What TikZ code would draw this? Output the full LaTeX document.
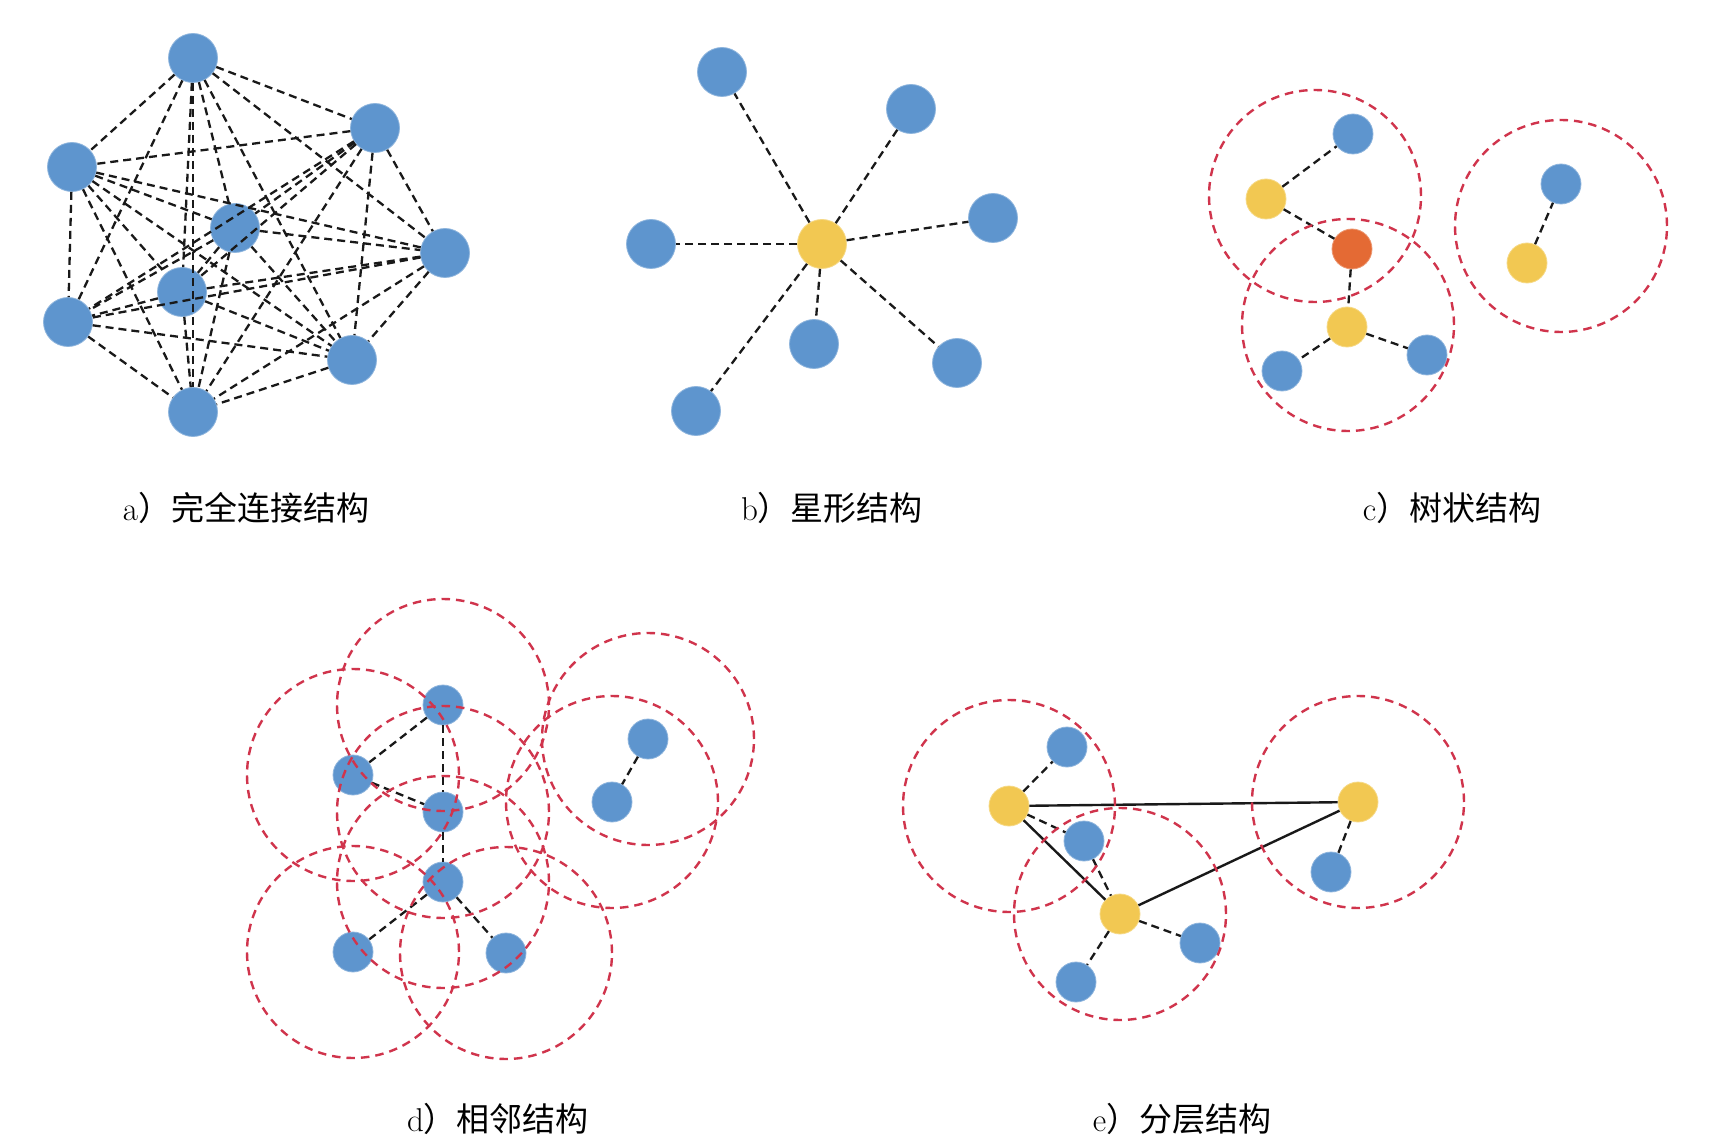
\documentclass[tikz,border=0pt]{standalone}
\usepackage{fontspec}
\newfontfamily\cjk{Noto Sans CJK SC}
\definecolor{nblue}{RGB}{94,149,206}
\definecolor{nyellow}{RGB}{242,200,82}
\definecolor{norange}{RGB}{228,106,52}
\definecolor{zred}{RGB}{208,52,76}
\begin{document}
\begin{tikzpicture}[x=1pt,y=-1pt,
  bignode/.style={circle,inner sep=0pt,minimum size=49pt,draw=#1!70!white,line width=0.8pt,fill=#1},
  smallnode/.style={circle,inner sep=0pt,minimum size=40pt,draw=#1!70!white,line width=0.8pt,fill=#1},
  link/.style={draw=black!90,line width=2.3pt,dash pattern=on 8pt off 5pt},
  solidlink/.style={draw=black!90,line width=2.4pt},
  zone/.style={draw=zred,line width=2.4pt,dash pattern=on 8.5pt off 6pt},
  captext/.style={font=\fontsize{33}{40}\selectfont,anchor=center,inner sep=0pt}]
\useasboundingbox (0,0) rectangle (1727,1147);
\fill[white] (0,0) rectangle (1727,1147);

% ---------- a) complete
\node[bignode=nblue] (a1) at (193,58) {};
\node[bignode=nblue] (a2) at (375,128) {};
\node[bignode=nblue] (a3) at (72,167) {};
\node[bignode=nblue] (a4) at (235,228) {};
\node[bignode=nblue] (a5) at (445,253) {};
\node[bignode=nblue] (a6) at (182,292) {};
\node[bignode=nblue] (a7) at (68,322) {};
\node[bignode=nblue] (a8) at (352,360) {};
\node[bignode=nblue] (a9) at (193,412) {};
\foreach \i [evaluate=\i as \k using int(\i+1)] in {1,...,8} {
  \foreach \j in {\k,...,9} {\draw[link] (a\i) -- (a\j);}
}
\node[captext] (capa) at (246,508) {a\cjk）完全连接结构};

% ---------- b) star
\node[bignode=nyellow] (b0) at (822,244) {};
\node[bignode=nblue] (b1) at (722,72) {};
\node[bignode=nblue] (b2) at (911,109) {};
\node[bignode=nblue] (b3) at (993,218) {};
\node[bignode=nblue] (b4) at (651,244) {};
\node[bignode=nblue] (b5) at (814,344) {};
\node[bignode=nblue] (b6) at (957,363) {};
\node[bignode=nblue] (b7) at (696,411) {};
\foreach \j in {1,...,7} {\draw[link] (b0) -- (b\j);}
\node[captext] (capb) at (832,508) {b\cjk）星形结构};

% ---------- c) tree
\node[smallnode=nblue] (c1) at (1353,134) {};
\node[smallnode=nyellow] (c2) at (1266,199) {};
\node[smallnode=norange] (c3) at (1352,249) {};
\node[smallnode=nyellow] (c4) at (1347,327) {};
\node[smallnode=nblue] (c5) at (1282,371) {};
\node[smallnode=nblue] (c6) at (1427,355) {};
\node[smallnode=nblue] (c7) at (1561,184) {};
\node[smallnode=nyellow] (c8) at (1527,263) {};
\draw[link] (c2) -- (c1);
\draw[link] (c2) -- (c3);
\draw[link] (c3) -- (c4);
\draw[link] (c4) -- (c5);
\draw[link] (c4) -- (c6);
\draw[link] (c8) -- (c7);
\coordinate (cz1) at (1315,196);
\coordinate (cz2) at (1348,325);
\coordinate (cz3) at (1561,226);
\foreach \z in {cz1,cz2,cz3} {\draw[zone] (\z) circle[radius=106pt];}
\node[captext] (capc) at (1452,508) {c\cjk）树状结构};

% ---------- d) adjacent
\node[smallnode=nblue] (d1) at (443,705) {};
\node[smallnode=nblue] (d2) at (353,775) {};
\node[smallnode=nblue] (d3) at (443,812) {};
\node[smallnode=nblue] (d4) at (443,882) {};
\node[smallnode=nblue] (d5) at (353,952) {};
\node[smallnode=nblue] (d6) at (506,953) {};
\node[smallnode=nblue] (d7) at (648,739) {};
\node[smallnode=nblue] (d8) at (612,802) {};
\draw[link] (d1) -- (d2);
\draw[link] (d1) -- (d3);
\draw[link] (d2) -- (d3);
\draw[link] (d3) -- (d4);
\draw[link] (d4) -- (d5);
\draw[link] (d4) -- (d6);
\draw[link] (d7) -- (d8);
\foreach \z in {d1,d2,d3,d4,d5,d6,d7,d8} {\draw[zone] (\z.center) circle[radius=106pt];}
\node[captext] (capd) at (498,1119) {d\cjk）相邻结构};

% ---------- e) hierarchical
\node[smallnode=nyellow] (e1) at (1009,806) {};
\node[smallnode=nblue] (e2) at (1067,747) {};
\node[smallnode=nblue] (e3) at (1084,841) {};
\node[smallnode=nyellow] (e4) at (1120,914) {};
\node[smallnode=nblue] (e5) at (1200,943) {};
\node[smallnode=nblue] (e6) at (1076,982) {};
\node[smallnode=nyellow] (e7) at (1358,802) {};
\node[smallnode=nblue] (e8) at (1331,872) {};
\draw[link] (e1) -- (e2);
\draw[link] (e1) -- (e3);
\draw[link] (e3) -- (e4);
\draw[link] (e4) -- (e5);
\draw[link] (e4) -- (e6);
\draw[link] (e7) -- (e8);
\draw[solidlink] (e1) -- (e7);
\draw[solidlink] (e1) -- (e4);
\draw[solidlink] (e4) -- (e7);
\foreach \z in {e1,e4,e7} {\draw[zone] (\z.center) circle[radius=106pt];}
\node[captext] (cape) at (1182,1119) {e\cjk）分层结构};
\end{tikzpicture}
\end{document}
